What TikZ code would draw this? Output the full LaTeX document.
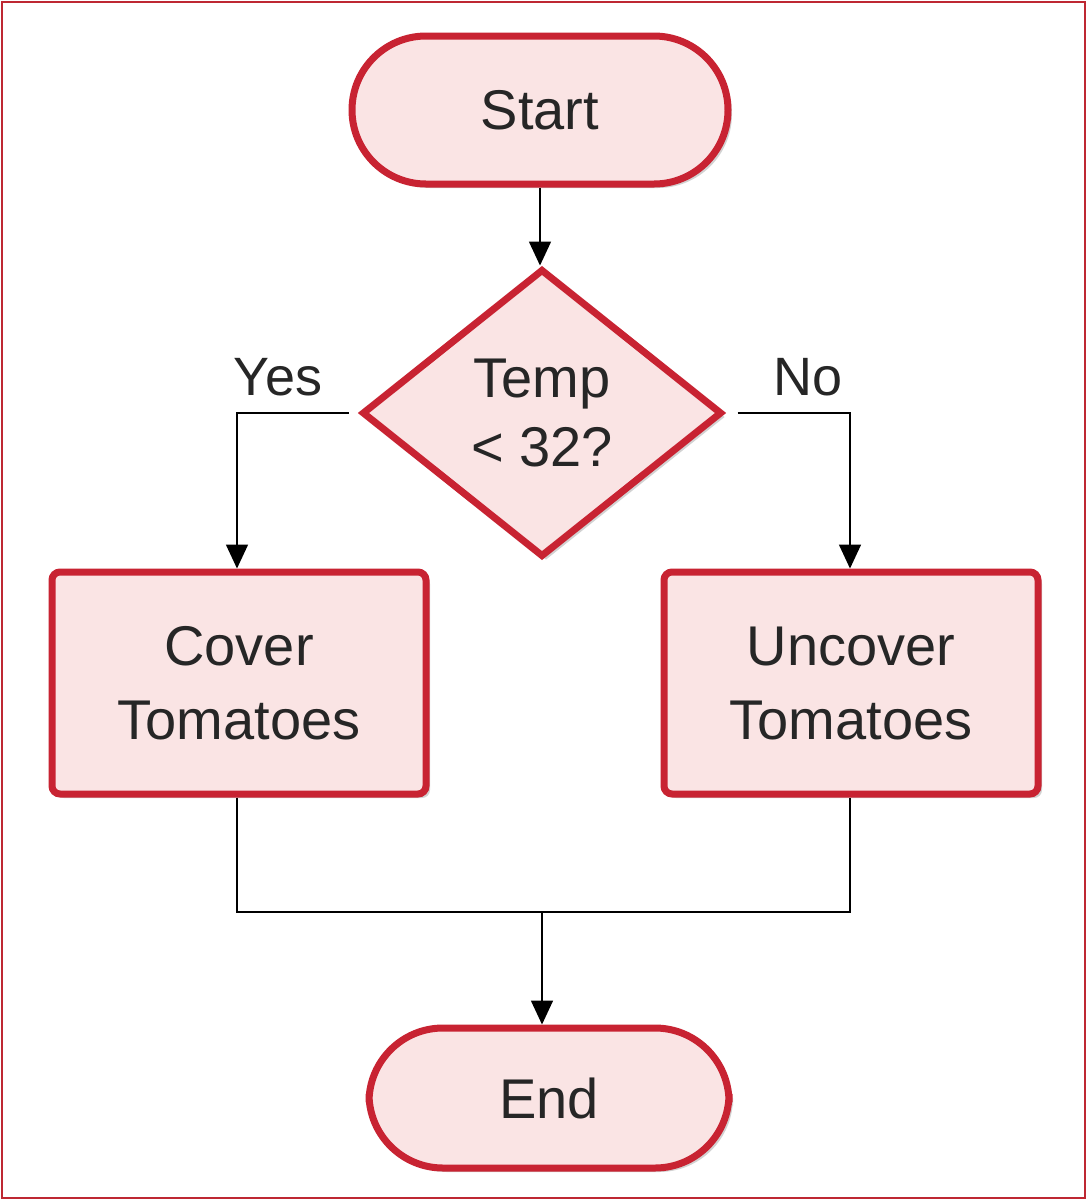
\documentclass[tikz,border=0pt]{standalone}
\usepackage{fontspec}
\setmainfont{Liberation Sans}
\usetikzlibrary{shapes.geometric,shadows,arrows.meta}
\definecolor{rim}{RGB}{200,35,50}
\definecolor{pinkfill}{RGB}{250,228,228}
\definecolor{frame}{RGB}{190,40,50}
\tikzset{
  x=0.5pt,y=-0.5pt,
  blk/.style={draw=rim,line width=3.5pt,fill=pinkfill,drop shadow={opacity=0.35,shadow xshift=2pt,shadow yshift=-2pt},
    font=\fontsize{28}{37}\selectfont,align=center,text=black!85},
  term/.style={blk,rounded corners=37pt,minimum width=188pt,minimum height=74pt},
  proc/.style={blk,rounded corners=4pt,minimum width=187pt,minimum height=111pt},
  dec/.style={blk,diamond,minimum width=180pt,minimum height=144pt,inner sep=0pt,aspect=1.25},
  conn/.style={line width=0.8pt},
  arr/.style={conn,-{Triangle[length=12pt,width=11pt]}},
  lbl/.style={font=\fontsize{27}{34}\selectfont,text=black!85}
}
\begin{document}
\begin{tikzpicture}
\fill[white] (0,0) rectangle (1087,1200);
\draw[frame,line width=1.2pt] (2,2) rectangle (1085,1198);
\node[term] (start) at (540,110) {Start};
\node[dec] (d) at (542,413) {Temp\\[-2pt]< 32?};
\node[proc] (cov) at (239,683) {Cover\\Tomatoes};
\node[proc] (unc) at (851,683) {Uncover\\Tomatoes};
\node[term,minimum width=180pt,minimum height=70pt] (end) at (549,1098) {End};
\coordinate (yl) at (237,413);
\coordinate (nr) at (850,413);
\coordinate (jl) at (237,912);
\coordinate (jr) at (850,912);
\coordinate (jm) at (542,912);
\draw[arr] (start.south) -- (start.south |- d.north);
\draw[arr] (d.west) ++(-10,0) -- (yl) -- (yl |- cov.north);
\draw[arr] (d.east) ++(12,0) -- (nr) -- (nr |- unc.north);
\draw[conn] (cov.south -| jl) -- (jl) -- (jr) -- (unc.south -| jr);
\draw[arr] (jm) -- (jm |- end.north);
\node[lbl] (yes) at (278,377) {Yes};
\node[lbl] (no) at (808,377) {No};
\end{tikzpicture}
\end{document}
